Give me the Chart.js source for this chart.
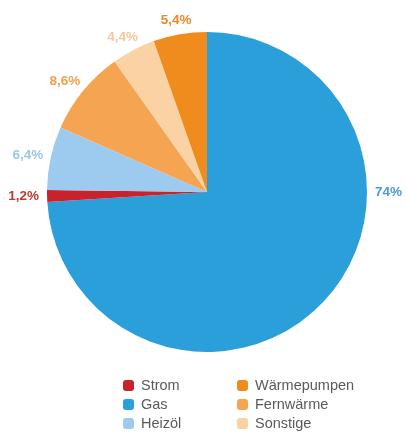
<!DOCTYPE html>
<html>
<head>
<meta charset="utf-8">
<script src="https://cdn.jsdelivr.net/npm/chart.js@4"></script>
<style>
  html, body { margin: 0; padding: 0; background: #fff; }
  #wrap { position: relative; width: 406px; height: 434px; }
  #legende { position: absolute; left: 0; top: 0; width: 406px; height: 434px; pointer-events: none;
    font-family: 'Liberation Sans', Arial, sans-serif; font-size: 14.5px; color: #5a5a5a; }
  .item { position: absolute; height: 18px; line-height: 18px; white-space: nowrap; }
  .box { display: inline-block; width: 11px; height: 11px; border-radius: 3px; vertical-align: -1px; margin-right: 7px; }
</style>
</head>
<body>
<div id="wrap">
  <canvas id="grafico" width="406" height="434"></canvas>
  <div id="legende"></div>
</div>
<script>
/* Daten: Anteile in Prozent, Reihenfolge im Uhrzeigersinn ab 12 Uhr */
var kategorien = ['Gas', 'Strom', 'Heizöl', 'Fernwärme', 'Sonstige', 'Wärmepumpen'];
var anteile = [74, 1.2, 6.4, 8.6, 4.4, 5.4];
/* Reihenfolge der Legende (zwei Spalten) */
var legendenReihenfolge = ['Strom', 'Gas', 'Heizöl', 'Wärmepumpen', 'Fernwärme', 'Sonstige'];

/* Farben der Segmente und der Beschriftungen */
var farben = {
  'Gas': '#2b9fda',
  'Strom': '#c8232c',
  'Heizöl': '#9ccbef',
  'Fernwärme': '#f5a552',
  'Sonstige': '#fbd2a4',
  'Wärmepumpen': '#f08b1d'
};
var textFarben = {
  'Gas': '#4d9bd3',
  'Strom': '#c0392b',
  'Heizöl': '#9dc6ea',
  'Fernwärme': '#f0a04b',
  'Sonstige': '#f5c89a',
  'Wärmepumpen': '#e8892a'
};

/* Plugin: Prozentwerte außen neben die Segmente schreiben */
var prozentLabels = {
  id: 'prozentLabels',
  afterDatasetsDraw: function (chart) {
    var ctx = chart.ctx;
    var meta = chart.getDatasetMeta(0);
    ctx.save();
    ctx.font = 'bold 13.5px "Liberation Sans", Arial, sans-serif';
    ctx.textAlign = 'center';
    ctx.textBaseline = 'middle';
    meta.data.forEach(function (arc, i) {
      var mitte = (arc.startAngle + arc.endAngle) / 2;
      /* das große Segment wird rechts auf Höhe der Mitte beschriftet */
      if (anteile[i] > 50) mitte = 0;
      var text = String(anteile[i]).replace('.', ',') + '%';
      var w = ctx.measureText(text).width, h = 13;
      var r = arc.outerRadius + 8;
      /* Textmitte so verschieben, dass die Box nicht in den Kreis ragt */
      var x = arc.x + Math.cos(mitte) * r + Math.cos(mitte) * w / 2;
      var y = arc.y + Math.sin(mitte) * r + Math.sin(mitte) * h / 2;
      ctx.fillStyle = textFarben[kategorien[i]];
      ctx.fillText(text, x, y);
    });
    ctx.restore();
  }
};

new Chart(document.getElementById('grafico'), {
  type: 'pie',
  data: {
    labels: kategorien,
    datasets: [{
      data: anteile,
      backgroundColor: kategorien.map(function (k) { return farben[k]; }),
      borderWidth: 0
    }]
  },
  options: {
    responsive: false,
    animation: false,
    layout: { padding: { left: 47, right: 39, top: 32, bottom: 82 } },
    plugins: { legend: { display: false }, tooltip: { enabled: false } }
  },
  plugins: [prozentLabels]
});

/* Legende als HTML in zwei Spalten */
var legende = document.getElementById('legende');
legendenReihenfolge.forEach(function (name, i) {
  var spalte = Math.floor(i / 3), zeile = i % 3;
  var el = document.createElement('div');
  el.className = 'item';
  el.style.left = (spalte === 0 ? 123 : 237) + 'px';
  el.style.top = (376 + zeile * 19) + 'px';
  el.innerHTML = '<span class="box" style="background:' + farben[name] + '"></span>' + name;
  legende.appendChild(el);
});
</script>
</body>
</html>
